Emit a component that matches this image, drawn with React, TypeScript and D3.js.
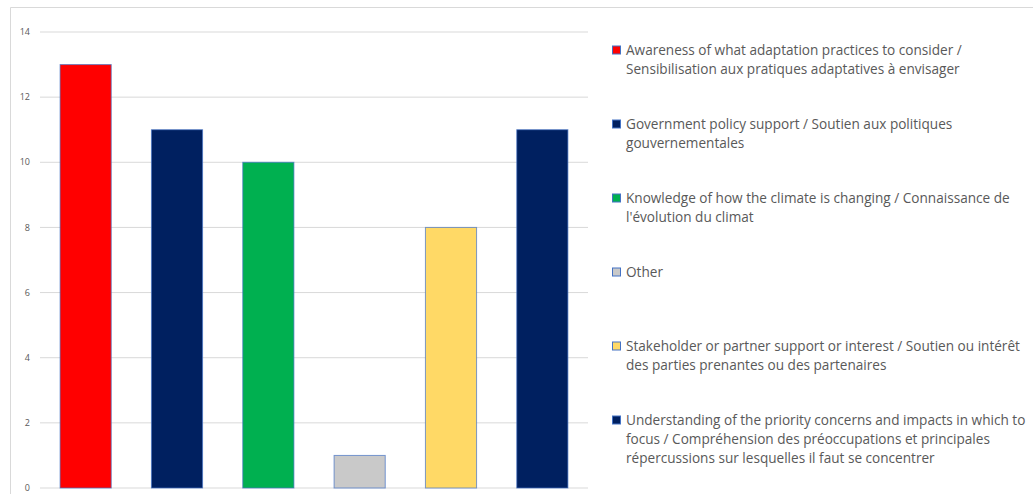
import React from "react";
import * as d3 from "d3";

const categories: string[][] = [
  ["Awareness of what adaptation practices to consider /", "Sensibilisation aux pratiques adaptatives à envisager"],
  ["Government policy support / Soutien aux politiques", "gouvernementales"],
  ["Knowledge of how the climate is changing / Connaissance de", "l'évolution du climat"],
  ["Other"],
  ["Stakeholder or partner support or interest / Soutien ou intérêt", "des parties prenantes ou des partenaires"],
  ["Understanding of the priority concerns and impacts in which to", "focus / Compréhension des préoccupations et principales", "répercussions sur lesquelles il faut se concentrer"],
];
const values: number[] = [13, 11, 10, 1, 8, 11];
const colors: string[] = ["#FF0000", "#002060", "#00B050", "#C9C9C9", "#FFD966", "#002060"];
const yTicks: number[] = [0, 2, 4, 6, 8, 10, 12, 14];

export default function App() {
  const W = 1033, H = 494;
  const x0 = 40, x1 = 588;
  const yTop = 32, yBot = 488;
  const x = d3.scaleBand<number>().domain(d3.range(values.length)).range([x0, x1]).paddingInner(0.44).paddingOuter(0.22);
  const y = d3.scaleLinear().domain([0, 14]).range([yBot, yTop]);
  const legendCenters = [50, 124, 198, 272, 346, 420];
  const lh = 19.3;
  return (
    <svg width={W} height={H} style={{ display: "block", position: "fixed", left: 0, top: 0 }} fontFamily="'Open Sans', sans-serif">
      <rect x={0} y={0} width={W} height={H} fill="#fff" />
      <path d={`M10.5,${H}V7.5H${W}`} fill="none" stroke="#D9D9D9" strokeWidth={1} />
      {yTicks.map((t) => (
        <g key={t}>
          <line x1={x0} x2={x1} y1={y(t)} y2={y(t)} stroke="#D9D9D9" strokeWidth={1} />
          <text x={30} y={y(t)} dy="0.35em" textAnchor="end" fontSize={9} fill="#595959">{t}</text>
        </g>
      ))}
      {values.map((v, i) => (
        <rect key={i} x={x(i)!} y={y(v)} width={x.bandwidth()} height={y(0) - y(v)} fill={colors[i]} stroke="#4472C4" strokeOpacity={0.7} strokeWidth={1} />
      ))}
      {categories.map((lines, i) => {
        const cy = legendCenters[i];
        return (
          <g key={i}>
            <rect x={612.5} y={cy - 4} width={8} height={8} fill={colors[i]} stroke="#4472C4" strokeWidth={1} />
            {lines.map((l, j) => (
              <text key={j} x={626} y={cy + j * lh} dy="0.35em" fontSize={13.6} fill="#595959">{l}</text>
            ))}
          </g>
        );
      })}
    </svg>
  );
}
